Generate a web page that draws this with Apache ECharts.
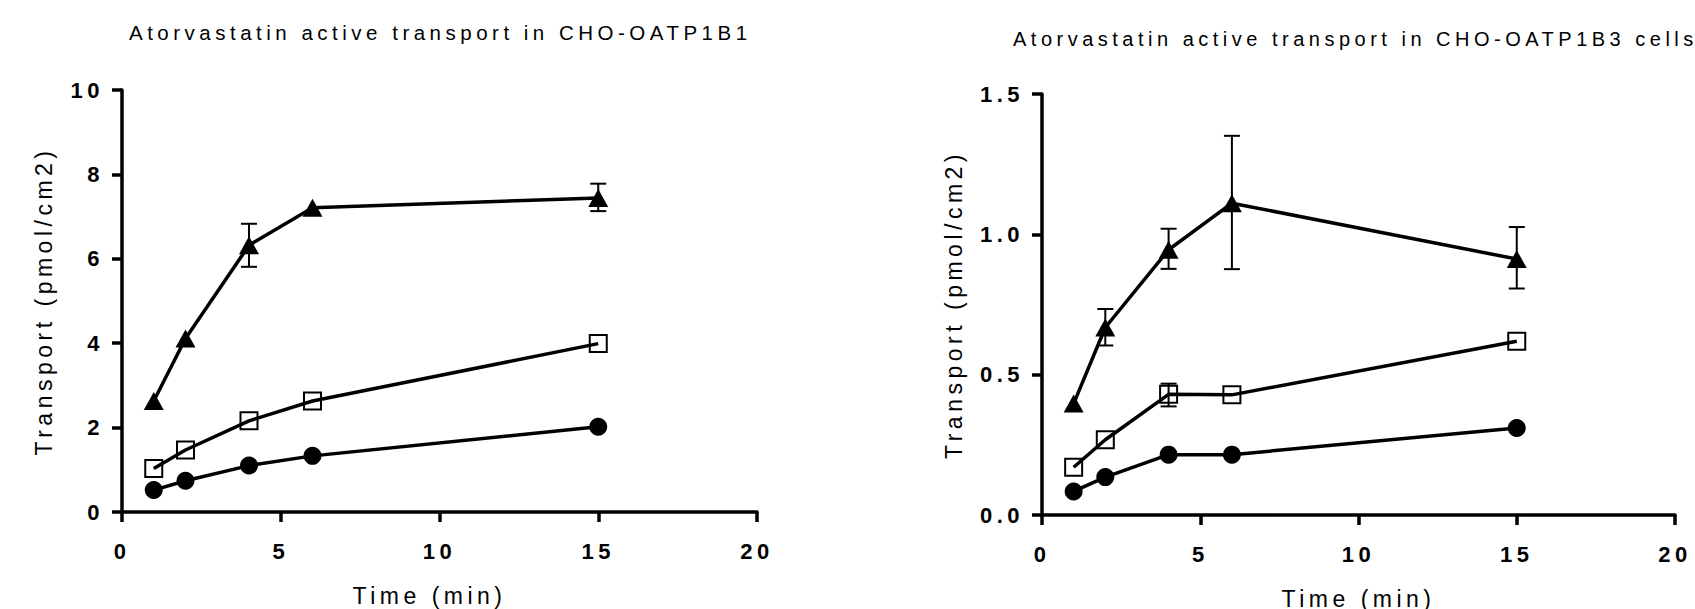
<!DOCTYPE html>
<html>
<head>
<meta charset="utf-8">
<script src="https://cdn.jsdelivr.net/npm/echarts@6/dist/echarts.min.js"></script>
<style>
  html, body { margin: 0; padding: 0; background: #fff; }
  #chart { width: 1695px; height: 609px; letter-spacing: 4.5px; }
</style>
</head>
<body>
<div id="chart"></div>
<script>
const times = [1, 2, 4, 6, 15]
const xTicks = [0, 5, 10, 15, 20]

// CHO-OATP1B1 (left panel)
const b1Triangle = [2.63, 4.11, 6.32, 7.21, 7.44]
const b1Square = [1.03, 1.47, 2.16, 2.63, 3.99]
const b1Circle = [0.52, 0.74, 1.10, 1.33, 2.02]
// [time, low, high]
const b1TriangleErr = [[4, 5.81, 6.83], [15, 7.13, 7.78]]

// CHO-OATP1B3 (right panel)
const b3Triangle = [0.397, 0.668, 0.945, 1.111, 0.912]
const b3Square = [0.17, 0.268, 0.43, 0.428, 0.619]
const b3Circle = [0.084, 0.135, 0.215, 0.215, 0.31]
const b3TriangleErr = [[2, 0.604, 0.734], [4, 0.877, 1.02], [6, 0.876, 1.351], [15, 0.807, 1.026]]
const b3SquareErr = [[4, 0.387, 0.468]]

const font = '"Liberation Sans", Arial, sans-serif'

const pairs = vals => times.map((t, i) => [t, vals[i]])

const xAxisFor = (gridIndex) => ({
  gridIndex,
  type: 'value',
  min: xTicks[0],
  max: xTicks[xTicks.length - 1],
  interval: 5,
  name: 'Time (min)',
  nameLocation: 'middle',
  nameGap: 72,
  nameTextStyle: { fontFamily: font, fontSize: 23, color: '#000', padding: gridIndex === 0 ? [0, 20, 0, 0] : 0 },
  axisLine: { lineStyle: { color: '#000', width: 3.5 } },
  axisTick: { inside: false, length: 10, lineStyle: { color: '#000', width: 3.5 } },
  axisLabel: { margin: 28, fontFamily: font, fontSize: 22, fontWeight: 'bold', color: '#000' },
  splitLine: { show: false }
})

const yAxisFor = (gridIndex, max, interval, gap, fmt) => ({
  gridIndex,
  type: 'value',
  min: 0,
  max,
  interval,
  name: 'Transport (pmol/cm2)',
  nameLocation: 'middle',
  nameRotate: 90,
  nameGap: gap,
  nameTextStyle: { fontFamily: font, fontSize: 23, color: '#000' },
  axisLine: { show: true, lineStyle: { color: '#000', width: 3.5 } },
  axisTick: { show: true, length: 10, lineStyle: { color: '#000', width: 3.5 } },
  axisLabel: { margin: 18, fontFamily: font, fontSize: 22, fontWeight: 'bold', color: '#000', formatter: fmt },
  splitLine: { show: false }
})

const lineSeries = (idx, data, symbol, size, hollow) => ({
  type: 'line',
  xAxisIndex: idx,
  yAxisIndex: idx,
  data: pairs(data),
  symbol,
  symbolSize: size,
  showSymbol: true,
  lineStyle: { color: '#000', width: 3.5 },
  itemStyle: hollow
    ? { color: 'rgba(0,0,0,0)', borderColor: '#000', borderWidth: 2 }
    : { color: '#000', borderWidth: 0 },
  z: 3,
  silent: true
})

const errorSeries = (idx, data) => ({
  type: 'custom',
  xAxisIndex: idx,
  yAxisIndex: idx,
  data,
  z: 2,
  silent: true,
  renderItem: (params, api) => {
    const lo = api.coord([api.value(0), api.value(1)])
    const hi = api.coord([api.value(0), api.value(2)])
    const half = 8
    const style = { stroke: '#000', lineWidth: 2 }
    return {
      type: 'group',
      children: [
        { type: 'line', shape: { x1: lo[0], y1: lo[1], x2: hi[0], y2: hi[1] }, style },
        { type: 'line', shape: { x1: hi[0] - half, y1: hi[1], x2: hi[0] + half, y2: hi[1] }, style },
        { type: 'line', shape: { x1: lo[0] - half, y1: lo[1], x2: lo[0] + half, y2: lo[1] }, style }
      ]
    }
  }
})

const chart = echarts.init(document.getElementById('chart'), null, { renderer: 'svg' })

chart.setOption({
  animation: false,
  backgroundColor: '#fff',
  title: [
    {
      text: 'Atorvastatin active transport in CHO-OATP1B1',
      left: 129, top: 22, padding: 0,
      textStyle: { fontFamily: font, fontSize: 20.5, fontWeight: 'normal', color: '#000' }
    },
    {
      text: 'Atorvastatin active transport in CHO-OATP1B3 cells',
      left: 1013, top: 29, padding: 0,
      textStyle: { fontFamily: font, fontSize: 20, fontWeight: 'normal', color: '#000' }
    }
  ],
  grid: [
    { left: 122, right: 938, top: 90, bottom: 97, outerBoundsMode: 'none' },
    { left: 1042, right: 20, top: 94, bottom: 94, outerBoundsMode: 'none' }
  ],
  xAxis: [xAxisFor(0), xAxisFor(1)],
  yAxis: [
    yAxisFor(0, 10, 2, 67, v => String(v)),
    yAxisFor(1, 1.5, 0.5, 77, v => v.toFixed(1))
  ],
  series: [
    errorSeries(0, b1TriangleErr),
    lineSeries(0, b1Triangle, 'triangle', [20, 18], false),
    lineSeries(0, b1Square, 'rect', 17, true),
    lineSeries(0, b1Circle, 'circle', 18, false),
    errorSeries(1, b3TriangleErr),
    errorSeries(1, b3SquareErr),
    lineSeries(1, b3Triangle, 'triangle', [20, 18], false),
    lineSeries(1, b3Square, 'rect', 17, true),
    lineSeries(1, b3Circle, 'circle', 18, false)
  ]
})
</script>
</body>
</html>
